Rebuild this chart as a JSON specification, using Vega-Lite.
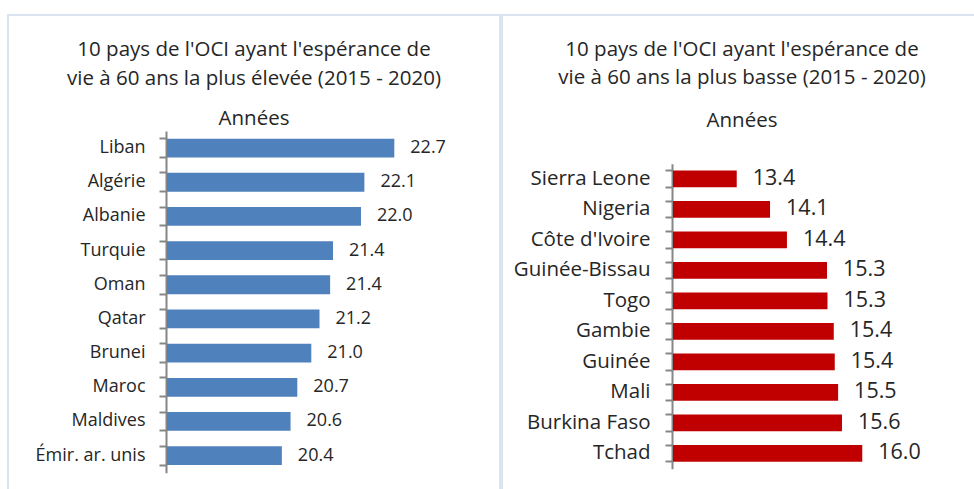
{
  "$schema": "https://vega.github.io/schema/vega-lite/v6.json",
  "background": "white",
  "padding": {"left": 7, "top": 14, "right": 0, "bottom": 0},
  "spacing": 0,
  "config": {
    "view": {"stroke": "#dae3ef", "strokeWidth": 2},
    "font": "Open Sans",
    "title": {"font": "Open Sans", "fontWeight": "normal", "color": "#262626", "subtitleFont": "Open Sans", "subtitleColor": "#262626", "anchor": "middle", "frame": "group"},
    "axis": {"title": null, "domainColor": "#868686", "domainWidth": 2, "tickColor": "#868686", "tickWidth": 2, "tickSize": 7, "labelColor": "#262626", "labelFont": "Open Sans"}
  },
  "hconcat": [
    {
      "width": 492,
      "height": 480,
      "title": {
        "text": ["10 pays de l'OCI ayant l'espérance de", "vie à 60 ans la plus élevée (2015 - 2020)"],
        "subtitle": "Années",
        "offset": -114.5,
        "fontSize": 20.5,
        "lineHeight": 29,
        "subtitleFontSize": 20.5,
        "subtitlePadding": 19.5
      },
      "data": {"values": [
        {"pays": "Liban", "valeur": 22.71},
        {"pays": "Algérie", "valeur": 22.09},
        {"pays": "Albanie", "valeur": 22.02},
        {"pays": "Turquie", "valeur": 21.44},
        {"pays": "Oman", "valeur": 21.38},
        {"pays": "Qatar", "valeur": 21.16},
        {"pays": "Brunei ", "valeur": 20.99},
        {"pays": "Maroc", "valeur": 20.70},
        {"pays": "Maldives", "valeur": 20.56},
        {"pays": "Émir. ar. unis", "valeur": 20.38}
      ]},
      "resolve": {"axis": {"y": "independent"}},
      "layer": [
        {
          "mark": {"type": "bar", "color": "#4f81bd"},
          "encoding": {
            "y": {
              "field": "pays", "type": "nominal", "sort": null,
              "scale": {"range": [116, 457.7], "paddingInner": 0.45, "paddingOuter": 0.225},
              "axis": {"orient": "left", "offset": -158, "domain": true, "ticks": false, "labels": true, "labelFontSize": 18, "labelPadding": 21}
            },
            "x": {"field": "valeur", "type": "quantitative", "scale": {"domain": [18, 24.9], "range": [159, 492], "zero": false, "nice": false}, "axis": null},
            "x2": {"datum": 18}
          }
        },
        {
          "mark": {"type": "text", "align": "left", "baseline": "middle", "dx": 16, "fontSize": 18, "color": "#262626", "font": "Open Sans"},
          "encoding": {
            "y": {
              "field": "pays", "type": "nominal", "sort": null,
              "axis": {"orient": "left", "offset": -158, "domain": false, "ticks": true, "labels": false, "bandPosition": 0}
            },
            "x": {"field": "valeur", "type": "quantitative"},
            "text": {"field": "valeur", "type": "quantitative", "format": ".1f"}
          }
        },
        {
          "mark": {"type": "bar", "opacity": 0},
          "encoding": {
            "y": {
              "field": "pays", "type": "nominal", "sort": null,
              "axis": {"orient": "left", "offset": -158, "domain": false, "ticks": true, "labels": false, "bandPosition": 1}
            },
            "x": {"field": "valeur", "type": "quantitative"},
            "x2": {"datum": 18}
          }
        }
      ]
    },
    {
      "width": 480,
      "height": 480,
      "title": {
        "text": ["10 pays de l'OCI ayant l'espérance de", "vie à 60 ans la plus basse (2015 - 2020)"],
        "subtitle": "Années",
        "offset": -116.5,
        "fontSize": 20.5,
        "lineHeight": 28,
        "subtitleFontSize": 20.5,
        "subtitlePadding": 22.5
      },
      "data": {"values": [
        {"pays": "Sierra Leone", "valeur": 13.40},
        {"pays": "Nigeria", "valeur": 14.09},
        {"pays": "Côte d'Ivoire", "valeur": 14.44},
        {"pays": "Guinée-Bissau", "valeur": 15.27},
        {"pays": "Togo", "valeur": 15.28},
        {"pays": "Gambie", "valeur": 15.41},
        {"pays": "Guinée", "valeur": 15.43},
        {"pays": "Mali", "valeur": 15.50},
        {"pays": "Burkina Faso", "valeur": 15.58},
        {"pays": "Tchad", "valeur": 16.00}
      ]},
      "resolve": {"axis": {"y": "independent"}},
      "layer": [
        {
          "mark": {"type": "bar", "color": "#c00000"},
          "encoding": {
            "y": {
              "field": "pays", "type": "nominal", "sort": null,
              "scale": {"range": [148.7, 453.7], "paddingInner": 0.45, "paddingOuter": 0.225},
              "axis": {"orient": "left", "offset": -170, "domain": true, "ticks": false, "labels": true, "labelFontSize": 20.5, "labelPadding": 22}
            },
            "x": {"field": "valeur", "type": "quantitative", "scale": {"domain": [12.08, 18.48], "range": [171, 480], "zero": false, "nice": false}, "axis": null},
            "x2": {"datum": 12.08}
          }
        },
        {
          "mark": {"type": "text", "align": "left", "baseline": "middle", "dx": 16, "fontSize": 21.5, "color": "#262626", "font": "Open Sans"},
          "encoding": {
            "y": {
              "field": "pays", "type": "nominal", "sort": null,
              "axis": {"orient": "left", "offset": -170, "domain": false, "ticks": true, "labels": false, "bandPosition": 0}
            },
            "x": {"field": "valeur", "type": "quantitative"},
            "text": {"field": "valeur", "type": "quantitative", "format": ".1f"}
          }
        },
        {
          "mark": {"type": "bar", "opacity": 0},
          "encoding": {
            "y": {
              "field": "pays", "type": "nominal", "sort": null,
              "axis": {"orient": "left", "offset": -170, "domain": false, "ticks": true, "labels": false, "bandPosition": 1}
            },
            "x": {"field": "valeur", "type": "quantitative"},
            "x2": {"datum": 12.08}
          }
        }
      ]
    }
  ]
}
